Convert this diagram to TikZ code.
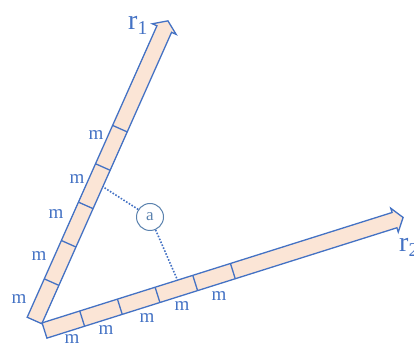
\documentclass[tikz,border=0pt]{standalone}
\usepackage{fontspec}
\setmainfont{Liberation Serif}
\usepackage{xcolor}
\usetikzlibrary{calc}

\definecolor{barfill}{HTML}{FBE5D6}
\definecolor{barblue}{HTML}{4472C4}
\definecolor{circblue}{HTML}{5B82AE}

\tikzset{
  bar/.style={draw=barblue, fill=barfill, line width=1.3pt},
  tick/.style={draw=barblue, line width=1.3pt},
  mlabel/.style={text=barblue, font=\fontsize{19}{19}\selectfont, inner sep=0pt},
  rlabel/.style={text=barblue, font=\fontsize{28}{28}\selectfont, inner sep=0pt},
  guide/.style={draw=barblue, dash pattern=on 1.6pt off 1.6pt, line width=1.6pt},
  pointmark/.style={circle, draw=circblue, line width=1pt, minimum size=27pt,
    inner sep=0pt, text=circblue, font=\fontsize{17}{17}\selectfont},
}

\begin{document}
\begin{tikzpicture}[x=1pt, y=1pt]

    % --- FRAME (pixel grid, origin bottom left) ---
    \useasboundingbox (0,0) rectangle (414,347);

    % --- VECTOR r1 (bar at 66 deg, 5 cells) ---
    \begin{scope}[shift={(34.5,26.5)}, rotate=66]
        \draw[bar] (0,-8) -- (319,-8) -- (319,-13) -- (328,0)
                   -- (319,13) -- (319,8) -- (0,8) -- cycle;
        \foreach \k in {1,...,5} \draw[tick] (42*\k,-8) -- (42*\k,8);
        % foot of the dotted line on the right edge
        \coordinate (r1foot) at (150,-8);
    \end{scope}

    % --- VECTOR r2 (bar at 17.5 deg, 5 cells) ---
    \begin{scope}[shift={(44.5,16.5)}, rotate=17.5]
        \draw[bar] (0,-8) -- (367,-8) -- (367,-12.5) -- (376,0)
                   -- (367,12.5) -- (367,8) -- (0,8) -- cycle;
        \foreach \k in {1,...,5} \draw[tick] (39.5*\k,-8) -- (39.5*\k,8);
        % foot of the dotted line on the top edge
        \coordinate (r2foot) at (142,8);
    \end{scope}

    % --- AXIS NAMES ---
    \node[rlabel, anchor=base west] (rone) at (128,317) {r\textsubscript{1}};
    \node[rlabel, anchor=base west] (rtwo) at (399,95) {r\textsubscript{2}};

    % --- CELL LABELS ALONG r1 ---
    \node[mlabel] (ma1) at (19,48) {m};
    \node[mlabel] (ma2) at (39,91) {m};
    \node[mlabel] (ma3) at (56,133) {m};
    \node[mlabel] (ma4) at (77,168) {m};
    \node[mlabel] (ma5) at (96,212) {m};

    % --- CELL LABELS ALONG r2 ---
    \node[mlabel] (mb1) at (72,8) {m};
    \node[mlabel] (mb2) at (106,17) {m};
    \node[mlabel] (mb3) at (147,29) {m};
    \node[mlabel] (mb4) at (182,41) {m};
    \node[mlabel] (mb5) at (219,51) {m};

    % --- POINT a AND ITS PROJECTIONS ---
    \node[pointmark] (pa) at (150,130) {a};
    \draw[guide] (pa) -- (r1foot);
    \draw[guide] (pa) -- (r2foot);

\end{tikzpicture}
\end{document}
